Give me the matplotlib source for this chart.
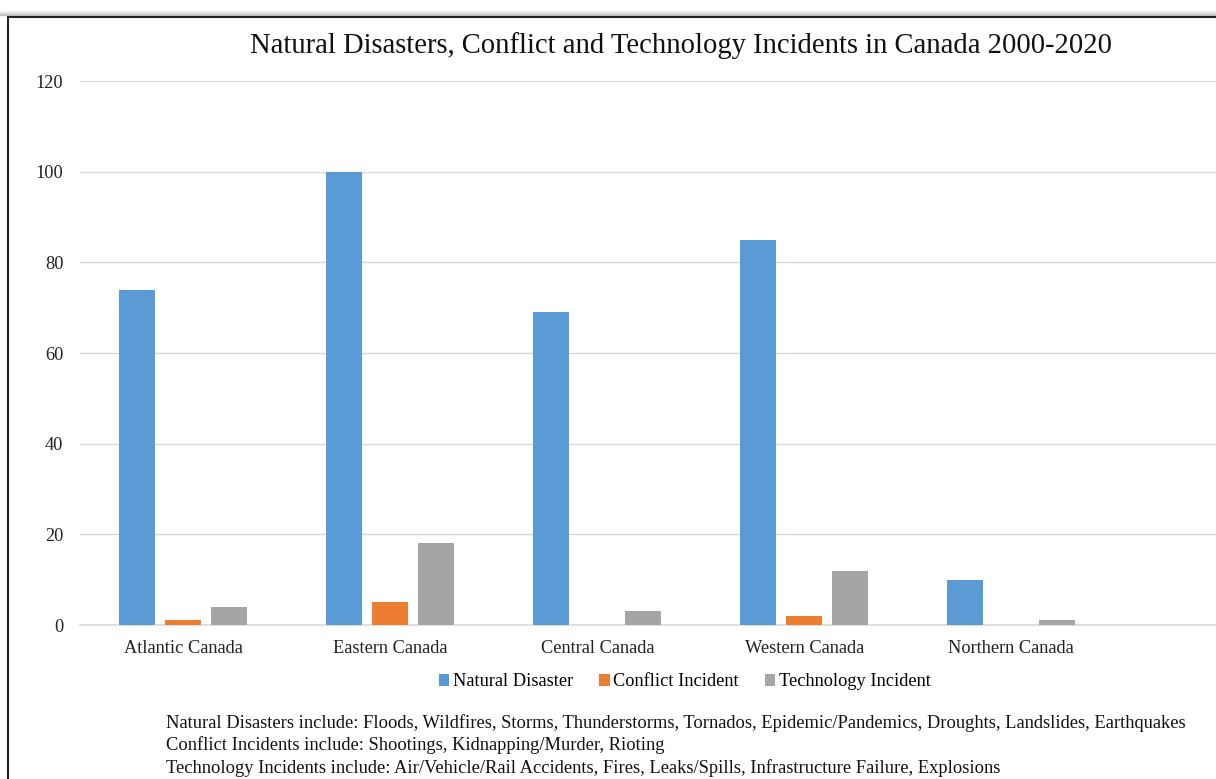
import matplotlib.pyplot as plt
import numpy as np
from matplotlib.patches import Rectangle

plt.rcParams['font.family'] = ['Liberation Serif', 'DejaVu Serif']

regions = ['Atlantic Canada', 'Eastern Canada', 'Central Canada', 'Western Canada', 'Northern Canada']
natural = [74, 100, 69, 85, 10]
conflict = [1, 5, 0, 2, 0]
technology = [4, 18, 3, 12, 1]
series_names = ['Natural Disaster', 'Conflict Incident', 'Technology Incident']
colors = ['#5B9BD5', '#ED7D31', '#A5A5A5']
notes = [
    'Natural Disasters include: Floods, Wildfires, Storms, Thunderstorms, Tornados, Epidemic/Pandemics, Droughts, Landslides, Earthquakes',
    'Conflict Incidents include: Shootings, Kidnapping/Murder, Rioting',
    'Technology Incidents include: Air/Vehicle/Rail Accidents, Fires, Leaks/Spills, Infrastructure Failure, Explosions',
]

W, H = 1216, 779
fig = plt.figure(figsize=(W / 100, H / 100), dpi=100)

# chart frame (screenshot is cropped at right and bottom)
for i, a in enumerate([0.04, 0.07, 0.1, 0.15, 0.22]):
    fig.add_artist(plt.Line2D([0, 1], [1 - (11 + i) / H] * 2, color='black', alpha=a, lw=1,
                              transform=fig.transFigure))
fig.add_artist(Rectangle((8 / W, -0.1), 1.2, 1 - 17 / H + 0.1, transform=fig.transFigure,
                         fill=False, edgecolor='#222222', lw=1.5))

ax = fig.add_axes([80 / W, (H - 625) / H, 1 - 80 / W, (625 - 81) / H])

x = np.arange(len(regions))
step = 46 / 207
width = 36 / 207
for k, vals in enumerate([natural, conflict, technology]):
    ax.bar(x + (k - 1) * step, vals, width, color=colors[k], label=series_names[k], zorder=3)

ax.set_ylim(0, 120)
ax.set_yticks(range(0, 121, 20))
ax.set_xlim(-0.5, (W - 183) / 207)
ax.set_xticks(x)
ax.set_xticklabels(regions)
ax.grid(axis='y', color='#d9d9d9', lw=1, zorder=0)
for s in ['left', 'right', 'top']:
    ax.spines[s].set_visible(False)
ax.spines['bottom'].set_color('#d9d9d9')
ax.spines['bottom'].set_linewidth(1.2)
ax.tick_params(axis='both', length=0, labelsize=13.2, colors='#222222')
ax.tick_params(axis='y', pad=12)
ax.tick_params(axis='x', pad=11)

fig.text(681 / W, 1 - 46 / H, 'Natural Disasters, Conflict and Technology Incidents in Canada 2000-2020',
         ha='center', va='center', fontsize=20.6, color='#111111')

fig.legend(loc='center', bbox_to_anchor=(685 / W, 1 - 682 / H), ncol=3, frameon=False,
           fontsize=13.2, handlelength=0.55, handleheight=0.55, handletextpad=0.2, columnspacing=1.45)

for i, line in enumerate(notes):
    fig.text(166 / W, 1 - (723 + 22.5 * i) / H, line, ha='left', va='center', fontsize=13.3,
             color='#111111')

fig.savefig('out.png', dpi=100, facecolor='white')
